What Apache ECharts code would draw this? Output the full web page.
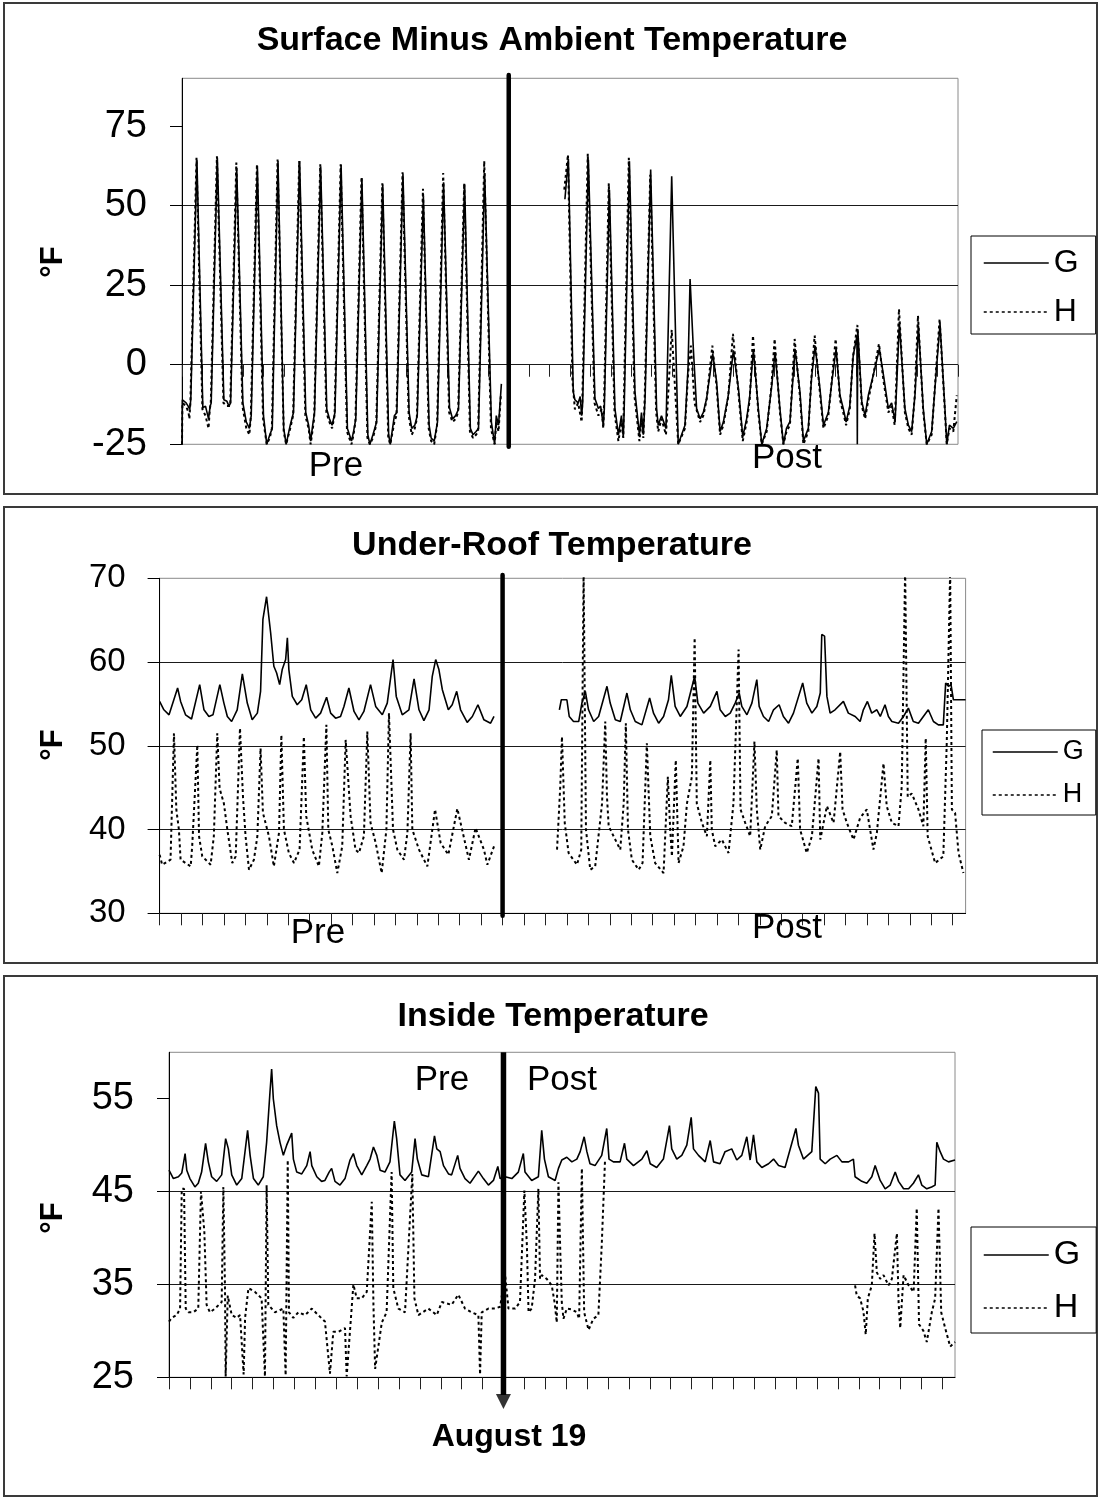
<!DOCTYPE html>
<html><head><meta charset="utf-8">
<script src="https://cdn.jsdelivr.net/npm/echarts@6/dist/echarts.min.js"></script>
<style>html,body{margin:0;padding:0;background:#fff}#c{width:1100px;height:1498px}</style>
</head><body><div id="c"></div>
<script>
const FONT = "'Liberation Sans', Arial, Helvetica, sans-serif";

// ---------- Panel titles & labels ----------
const panelTitles = ['Surface Minus Ambient Temperature', 'Under-Roof Temperature', 'Inside Temperature'];
const seriesNames = ['G', 'H'];
const dividerDay = 16;           // August 19
const dividerLabel = 'August 19';

// ---------- Y tick values ----------
const yTicksSurface = [-25, 0, 25, 50, 75];
const yTicksRoof = [30, 40, 50, 60, 70];
const yTicksInside = [25, 35, 45, 55];

// ---------- Surface minus ambient (days, °F) ----------
const surfacePreG = [
[0,-25],[0.02,-11],[0.2,-12],[0.3,-13],[0.38,-14],[0.43,-11],
[0.73,64.4],[1.02,-13.5],[1.15,-13],[1.3,-17],[1.38,-13],[1.43,-12],
[1.73,65],[2.05,-11],[2.2,-11.5],[2.3,-13],[2.38,-12],
[2.68,61.8],[2.98,-12],[3.15,-18],[3.3,-20],[3.39,-16],
[3.69,62.5],[3.99,-16],[4.15,-25],[4.3,-22],[4.42,-20],
[4.7,64],[4.98,-20],[5.1,-25],[5.3,-19],[5.46,-15],
[5.76,64],[6.06,-15],[6.2,-19],[6.3,-24],[6.4,-19],[6.49,-15],
[6.79,62.3],[7.09,-14],[7.22,-17],[7.35,-19],[7.49,-15],
[7.79,62.8],[8.1,-20],[8.3,-24],[8.4,-21],[8.51,-17],
[8.81,58.6],[9.1,-22],[9.2,-25],[9.35,-22],[9.53,-18],
[9.83,56.6],[10.12,-22],[10.2,-25],[10.4,-16],[10.52,-15],
[10.82,60],[11.12,-15],[11.25,-20],[11.4,-19],[11.52,-16],
[11.82,52.9],[12.1,-19],[12.2,-23],[12.35,-24],[12.51,-18],
[12.81,57.3],[13.1,-13.5],[13.25,-17],[13.4,-16],[13.54,-14],
[13.84,56.6],[14.12,-20],[14.25,-22],[14.4,-21],[14.52,-20],
[14.82,60.2],[15.15,-18],[15.31,-25],[15.39,-16],[15.5,-19],[15.64,-6]
];
const surfacePreH = [
[0,-25],[0.02,-12],[0.2,-13],[0.32,-15],[0.36,-17],[0.41,-12],
[0.71,65],[1.0,-14],[1.15,-16],[1.3,-20],[1.36,-14],[1.41,-12],
[1.71,65.5],[2.03,-12],[2.2,-13],[2.36,-13],
[2.66,63.5],[2.96,-13],[3.15,-20],[3.3,-22],[3.37,-16],
[3.67,63],[3.97,-17],[4.15,-25],[4.3,-23],[4.4,-20],
[4.68,64.5],[4.98,-21],[5.1,-25],[5.3,-20],[5.44,-16],
[5.74,64],[6.04,-16],[6.2,-20],[6.3,-25],[6.47,-17],
[6.77,63],[7.07,-15],[7.22,-18],[7.35,-20],[7.47,-16],
[7.77,63],[8.08,-21],[8.3,-25],[8.4,-22],[8.49,-18],
[8.79,59],[9.08,-23],[9.2,-25],[9.35,-23],[9.51,-19],
[9.81,57],[10.1,-23],[10.2,-25],[10.4,-18],[10.5,-16],
[10.8,60.5],[11.1,-16],[11.25,-22],[11.4,-20],[11.5,-17],
[11.8,55.3],[12.08,-20],[12.2,-24],[12.35,-25],[12.49,-19],
[12.79,60.2],[13.08,-15],[13.25,-18],[13.4,-17],[13.52,-15],
[13.82,57],[14.1,-21],[14.25,-23],[14.4,-22],[14.5,-21],
[14.8,64],[15.13,-20],[15.31,-25],[15.39,-18],[15.5,-21],[15.62,-9]
];
const surfacePostG = [
[18.75,52],[18.92,64.6],[19.16,-8.5],[19.24,-11],[19.4,-12],[19.5,-10],[19.57,-16],[19.62,-12],
[19.9,64.4],[20.22,-10.6],[20.39,-13.75],[20.5,-13],[20.63,-19],[20.68,-14],
[20.93,55],[21.2,-13.75],[21.37,-22],[21.52,-16],[21.61,-22.6],[21.65,-15],
[21.91,63.9],[22.18,-8.5],[22.4,-22],[22.5,-15],[22.59,-22],[22.68,-10],
[22.95,61.3],[23.24,-13.75],[23.32,-19],[23.48,-16],[23.7,-20],
[23.98,59.2],[24.3,-25],[24.63,-19],[24.78,-1],[24.88,26.9],[25.04,5],[25.2,-13.75],[25.37,-17],[25.53,-15],[25.69,-10.6],
[25.99,3.4],[26.18,-5.4],[26.35,-21],[26.51,-18],[26.75,-9.6],
[27.0,4.5],[27.25,-7.5],[27.46,-22.6],[27.65,-17],[27.8,-10],
[27.98,4.8],[28.22,-13.75],[28.39,-25],[28.63,-20],[28.88,-6.5],
[29.04,4],[29.28,-13.75],[29.45,-25],[29.6,-20],[29.77,-17.9],
[30.02,5],[30.26,-8.5],[30.43,-24],[30.67,-20],[30.83,-4],
[31.0,6],[31.24,-7.5],[31.41,-19],[31.65,-15],[31.81,-6],
[32.03,5],[32.22,-9.6],[32.38,-13.75],[32.52,-18],[32.7,-13],[32.87,2.9],
[33.05,9],[33.07,-25],[33.09,11.25],[33.29,-11.7],[33.45,-16],[33.61,-9.6],[33.85,-3.3],
[34.15,5],[34.35,-3.3],[34.59,-13.75],[34.75,-12],[34.92,-17.9],
[35.13,13.3],[35.4,-13.75],[35.57,-19],[35.73,-21],[35.9,-9],
[36.06,12.3],[36.3,-13.75],[36.47,-25],[36.71,-21],[36.92,-3.3],
[37.12,12.8],[37.36,-13.75],[37.45,-25],[37.58,-19],[37.77,-20],[37.94,-17.9]
];
const surfacePostH = [
[18.72,55],[18.9,66],[19.12,-5],[19.24,-14],[19.4,-12],[19.57,-18],[19.6,-12],
[19.87,66.3],[20.2,-12],[20.39,-16],[20.55,-14],[20.63,-20],[20.66,-14],
[20.9,57],[21.18,-15],[21.37,-24],[21.52,-18],[21.61,-23],[21.63,-14],
[21.88,65],[22.16,-10],[22.4,-24],[22.5,-17],[22.59,-23],[22.66,-10],
[22.93,59.7],[23.22,-15],[23.32,-21],[23.48,-17],[23.7,-22],
[23.98,11],[24.3,-25],[24.63,-20],[24.78,-3],[24.92,6],[25.1,-12],[25.37,-18],[25.53,-16],[25.69,-11],
[25.97,6],[26.18,-7],[26.35,-22],[26.51,-19],[26.75,-10],
[26.98,9.7],[27.25,-9],[27.46,-24],[27.65,-18],[27.8,-11],
[27.96,9.2],[28.22,-15],[28.39,-25],[28.63,-21],[28.86,-7],
[29.02,8.1],[29.28,-15],[29.45,-25],[29.6,-21],[29.77,-19],
[30.0,8.1],[30.26,-10],[30.43,-25],[30.67,-21],[30.81,-5],
[30.98,9.2],[31.24,-9],[31.41,-20],[31.65,-16],[31.79,-7],
[32.01,8.1],[32.22,-11],[32.38,-15],[32.52,-19],[32.7,-14],[32.85,2],
[33.07,12.5],[33.29,-13],[33.45,-17],[33.61,-11],[33.83,-4],
[34.13,6.6],[34.35,-5],[34.59,-15],[34.75,-13],[34.9,-19],
[35.11,17.5],[35.4,-15],[35.57,-20],[35.73,-22],[35.88,-10],
[36.04,15.4],[36.3,-15],[36.47,-25],[36.71,-22],[36.9,-4],
[37.1,14.4],[37.36,-15],[37.45,-25],[37.58,-20],[37.77,-21],[37.94,-9.6]
];

// ---------- Under-roof temperature ----------
const roofPreG = [
[0,55.3],[0.2,54.3],[0.44,53.7],[0.84,56.9],[0.98,55.3],[1.21,53.7],[1.49,53.2],[1.87,57.3],[2.07,54.3],[2.3,53.5],[2.49,53.7],
[2.81,57.3],[3.0,55.1],[3.16,53.5],[3.36,52.9],[3.62,54.3],[3.86,58.6],[4.09,55.1],[4.32,53.1],[4.56,53.9],[4.71,56.5],
[4.82,65.1],[4.99,67.8],[5.18,63.5],[5.33,59.5],[5.46,58.7],[5.6,57.3],[5.72,59.1],[5.88,60.3],[5.96,62.9],[6.03,59.1],
[6.19,55.9],[6.42,54.9],[6.63,55.5],[6.84,57.3],[7.05,54.3],[7.28,53.3],[7.51,53.9],[7.79,55.8],[7.98,53.9],[8.21,53.3],
[8.44,53.5],[8.6,54.7],[8.83,56.9],[9.07,54.1],[9.3,53.1],[9.53,54.1],[9.84,57.3],[10.08,54.7],[10.39,53.7],[10.62,55.1],
[10.89,60.3],[11.04,55.9],[11.32,53.7],[11.63,54.3],[11.87,58.0],[12.1,54.3],[12.33,53.0],[12.57,54.3],[12.72,58.3],
[12.88,60.3],[13.03,59.1],[13.19,56.7],[13.47,54.3],[13.65,54.9],[13.86,56.5],[14.04,54.3],[14.35,52.8],[14.59,53.5],
[14.85,54.9],[15.13,53.1],[15.44,52.7],[15.6,53.5]
];
const roofPreH = [
[0,37.0],[0.12,35.8],[0.51,36.4],[0.67,51.5],[0.78,42.4],[0.9,40.0],[0.98,36.4],[1.45,35.6],[1.52,38.0],[1.76,50.1],
[1.84,39.2],[1.99,36.8],[2.38,35.8],[2.53,39.2],[2.69,51.5],[2.8,44.9],[3.0,43.1],[3.16,40.0],[3.39,36.0],[3.55,36.8],
[3.75,52.1],[3.89,43.9],[4.01,39.2],[4.17,35.2],[4.4,36.4],[4.56,39.2],[4.71,49.7],[4.82,42.0],[5.1,39.2],[5.33,35.6],
[5.57,39.6],[5.68,51.3],[5.8,40.0],[6.03,37.2],[6.27,36.0],[6.53,37.6],[6.73,51.1],[6.84,41.6],[7.12,37.6],[7.43,35.6],
[7.59,39.6],[7.78,52.5],[7.87,40.0],[8.06,38.0],[8.29,34.8],[8.52,38.0],[8.68,50.7],[8.91,41.6],[9.14,37.6],[9.3,37.2],
[9.53,39.2],[9.69,51.7],[9.84,40.8],[10.08,38.4],[10.36,34.8],[10.58,40.0],[10.7,53.9],[10.89,40.0],[11.09,37.6],
[11.4,36.4],[11.56,39.6],[11.71,51.5],[11.79,40.0],[12.1,37.6],[12.49,35.6],[12.85,42.4],[13.11,38.4],[13.47,37.0],
[13.89,42.5],[14.43,36.4],[14.74,40.2],[15.13,37.6],[15.29,35.8],[15.6,38.0]
];
const roofPostG = [
[18.65,54.3],[18.74,55.5],[19.0,55.5],[19.11,53.5],[19.31,52.9],[19.55,52.9],[19.7,55.1],[19.86,56.5],[20.01,54.3],
[20.25,52.9],[20.48,53.5],[20.87,57.1],[21.02,55.1],[21.26,53.1],[21.49,52.9],[21.8,56.3],[21.96,54.3],[22.19,52.9],
[22.5,52.5],[22.86,55.7],[23.04,53.9],[23.28,52.7],[23.51,53.5],[23.74,55.5],[23.87,58.4],[24.05,54.7],[24.29,53.5],
[24.6,54.7],[24.96,58.3],[25.11,55.1],[25.38,53.9],[25.69,54.7],[26.0,56.5],[26.15,54.3],[26.39,53.5],[26.62,53.9],
[26.85,55.1],[27.04,56.3],[27.16,54.7],[27.4,53.7],[27.63,55.1],[27.86,57.9],[27.97,54.7],[28.17,53.5],[28.41,52.9],
[28.64,54.3],[28.9,54.9],[29.1,53.5],[29.34,52.7],[29.57,53.9],[30.0,57.5],[30.19,55.1],[30.43,53.9],[30.66,54.7],
[30.82,56.3],[30.89,63.3],[31.02,63.1],[31.13,55.9],[31.28,53.9],[31.51,54.3],[31.9,55.3],[32.13,53.9],[32.45,53.5],
[32.68,52.9],[32.83,54.3],[33.02,55.3],[33.22,53.9],[33.46,54.3],[33.62,53.5],[33.84,54.9],[34.0,53.5],[34.16,52.9],
[34.47,52.7],[34.7,53.5],[34.93,54.5],[35.16,52.9],[35.4,52.7],[35.63,53.5],[35.86,54.3],[36.1,52.9],[36.33,52.5],
[36.56,52.5],[36.67,57.5],[36.8,57.1],[36.92,57.3],[37.03,55.5],[37.19,55.5],[37.6,55.5]
];
const roofPostH = [
[18.54,37.6],[18.69,45.1],[18.77,51.1],[18.9,40.8],[19.08,37.2],[19.47,35.8],[19.67,37.6],[19.78,71],[19.89,40.0],
[20.09,35.2],[20.32,35.6],[20.64,43.1],[20.79,52.9],[20.87,43.9],[20.95,40.4],[21.18,39.2],[21.49,37.6],[21.65,43.1],
[21.75,52.7],[21.85,40.0],[22.03,36.4],[22.35,35.2],[22.53,36.0],[22.62,42.4],[22.73,50.3],[22.89,39.2],[23.12,36.0],
[23.51,34.8],[23.71,46.3],[23.82,40.0],[23.9,36.8],[24.08,48.3],[24.21,36.0],[24.44,38.0],[24.6,43.1],[24.83,46.3],
[24.96,62.9],[25.06,43.1],[25.3,40.8],[25.53,39.2],[25.69,48.3],[25.76,40.0],[25.92,38.0],[26.23,38.8],[26.54,37.2],
[26.77,43.1],[27.01,61.5],[27.1,42.4],[27.32,40.8],[27.55,39.2],[27.75,50.5],[27.86,42.4],[28.02,37.6],[28.25,40.4],
[28.56,41.6],[28.79,49.5],[28.87,41.6],[29.18,40.8],[29.49,40.4],[29.77,48.5],[29.88,40.0],[30.19,37.2],[30.43,39.2],
[30.74,48.5],[30.82,38.8],[31.13,42.8],[31.44,40.8],[31.75,49.3],[31.86,42.4],[32.06,40.8],[32.37,38.8],[32.68,41.4],
[32.99,42.4],[33.3,37.6],[33.46,39.6],[33.77,47.9],[33.92,42.8],[34.16,40.8],[34.47,40.4],[34.62,45.1],[34.78,71],
[34.9,43.9],[35.09,44.3],[35.4,42.4],[35.63,40.4],[35.74,50.9],[35.83,39.2],[36.18,36.0],[36.56,36.8],[36.72,50.3],
[36.88,71],[36.96,42.4],[37.11,42.0],[37.27,37.2],[37.5,34.8]
];

// ---------- Inside temperature ----------
const insideG = [
[0,47.3],[0.21,46.4],[0.45,46.6],[0.61,47.0],[0.69,48.0],[0.77,49.1],[0.85,47.3],[1.0,46.4],[1.24,45.5],[1.4,45.9],
[1.56,47.1],[1.75,50.2],[1.88,48.2],[2.04,46.6],[2.28,46.1],[2.52,46.8],[2.71,50.7],[2.84,49.6],[3.0,46.8],[3.24,45.7],
[3.48,46.4],[3.76,51.6],[3.88,48.9],[4.04,46.4],[4.27,45.7],[4.51,46.6],[4.67,50.3],[4.83,55.7],[4.91,58.2],[4.99,55.0],
[5.15,52.1],[5.31,50.3],[5.47,48.9],[5.63,50.0],[5.87,51.3],[5.95,48.5],[6.11,47.1],[6.35,46.9],[6.59,47.8],[6.75,49.3],
[6.83,47.8],[7.07,46.6],[7.3,46.1],[7.46,46.2],[7.66,47.1],[7.78,47.5],[7.94,46.1],[8.18,45.7],[8.42,46.4],[8.66,48.4],
[8.82,49.1],[8.98,47.8],[9.22,46.8],[9.46,47.8],[9.62,48.5],[9.78,49.8],[9.94,48.9],[10.1,47.3],[10.33,47.1],[10.57,48.2],
[10.78,52.6],[10.89,50.7],[11.05,46.8],[11.29,46.2],[11.61,47.1],[11.77,50.7],[11.88,48.5],[12.09,46.8],[12.41,46.6],
[12.7,51.0],[12.81,49.6],[12.97,49.3],[13.13,47.8],[13.37,46.9],[13.52,46.8],[13.81,48.9],[13.92,47.5],[14.16,46.4],
[14.4,45.9],[14.8,47.2],[15.04,46.4],[15.28,45.7],[15.52,46.2],[15.73,47.7],[15.84,46.4],[16.08,46.6],[16.4,46.4],
[16.71,47.1],[16.95,49.1],[17.03,47.1],[17.35,46.2],[17.67,46.6],[17.83,51.6],[17.96,48.5],[18.15,46.6],[18.47,46.2],
[18.63,47.5],[18.79,48.4],[19.03,48.7],[19.27,48.2],[19.51,48.5],[19.67,49.3],[19.86,50.9],[19.99,49.3],[20.14,48.0],
[20.38,47.8],[20.7,48.9],[20.94,51.8],[21.05,48.5],[21.26,48.2],[21.58,48.2],[21.79,50.2],[21.9,48.5],[22.22,47.8],
[22.62,48.5],[22.86,49.4],[23.02,48.0],[23.33,47.6],[23.65,48.5],[23.94,52.1],[24.05,49.6],[24.29,48.5],[24.53,48.9],
[24.77,50.0],[24.98,53.0],[25.09,49.6],[25.33,48.9],[25.65,48.2],[25.89,50.5],[26.05,48.2],[26.36,48.0],[26.6,49.3],
[26.92,49.6],[27.16,48.4],[27.4,48.9],[27.64,50.9],[27.8,48.4],[27.96,51.1],[28.12,48.2],[28.36,47.6],[28.68,48.0],
[28.92,48.5],[29.16,47.8],[29.47,47.6],[29.99,51.8],[30.11,50.0],[30.35,48.5],[30.75,49.3],[30.94,56.3],[31.07,55.6],
[31.15,48.5],[31.39,48.0],[31.63,48.5],[31.95,48.9],[32.19,48.2],[32.51,48.2],[32.74,48.5],[32.82,46.6],[33.14,46.1],
[33.38,45.9],[33.62,46.6],[33.78,47.8],[34.02,46.2],[34.26,45.3],[34.5,45.7],[34.74,47.1],[34.9,46.1],[35.14,45.3],
[35.38,45.3],[35.61,45.9],[35.85,46.8],[36.01,45.7],[36.25,45.3],[36.48,45.5],[36.65,45.7],[36.73,50.3],[36.89,49.3],
[37.05,48.5],[37.29,48.2],[37.6,48.4]
];
const insideH_part1 = [
[0,31.0],[0.13,31.4],[0.37,31.7],[0.53,32.4],[0.61,45.3],[0.72,45.3],[0.8,32.4],[0.93,32.0],[1.16,32.0],[1.4,32.4],
[1.53,45.0],[1.69,40.7],[1.8,32.8],[1.96,32.0],[2.2,32.4],[2.52,33.1],[2.6,45.5],[2.68,34.2],[2.71,25.1],[2.81,33.8],
[3.0,31.7],[3.24,31.4],[3.4,31.7],[3.57,25.3],[3.64,31.4],[3.8,34.6],[4.11,34.2],[4.43,33.5],[4.59,25.1],[4.67,45.7],
[4.75,32.8],[5.07,32.0],[5.47,32.4],[5.58,25.2],[5.68,48.4],[5.74,32.0],[5.95,31.4],[6.19,32.0],[6.51,31.7],[6.83,32.4],
[7.14,31.7],[7.46,31.0],[7.7,25.4],[7.86,29.9],[8.1,29.9],[8.42,30.3],[8.5,25.1],[8.82,35.0],[8.98,33.5],[9.22,33.5],
[9.46,34.2],[9.7,43.9],[9.78,32.8],[9.86,25.9],[10.18,30.9],[10.41,32.0],[10.65,47.1],[10.73,34.6],[10.97,32.4],
[11.29,32.0],[11.64,46.9],[11.74,33.5],[11.93,31.7],[12.41,32.4],[12.81,31.7],[13.05,33.1],[13.52,32.8],[13.84,33.9],
[14.16,32.4],[14.48,32.0],[14.8,31.7],[14.88,25.3],[14.96,32.0],[15.28,32.4],[15.59,32.4],[15.84,32.6],[16.08,36.0],
[16.24,32.4],[16.56,32.4],[16.79,33.1],[17.0,45.1],[17.12,39.2],[17.2,32.0],[17.35,32.4],[17.51,35.6],[17.67,45.3],
[17.75,35.6],[17.83,36.0],[18.07,35.6],[18.31,34.9],[18.45,33.0],[18.55,30.9],[18.63,46.0],[18.71,39.2],[18.79,33.1],
[18.87,31.3],[19.03,32.4],[19.27,32.3],[19.51,32.0],[19.62,31.3],[19.75,47.5],[19.86,32.0],[20.07,30.1],[20.3,31.3],
[20.54,31.7],[20.7,39.2],[20.86,48.5]
];
const insideH_part2 = [
[32.82,34.9],[32.9,33.8],[33.06,33.5],[33.22,32.1],[33.33,29.6],[33.43,33.5],[33.62,34.9],[33.75,40.5],[33.86,36.3],
[34.02,35.6],[34.18,36.0],[34.42,34.9],[34.58,35.6],[34.82,40.5],[34.9,33.1],[34.98,30.3],[35.14,36.0],[35.38,34.9],
[35.62,34.2],[35.77,43.2],[35.88,30.7],[36.09,30.0],[36.25,28.8],[36.49,32.0],[36.65,33.5],[36.81,43.2],[36.94,32.0],
[37.13,30.3],[37.37,28.3],[37.6,28.8]
];

// ---------- Build chart ----------
const chart = echarts.init(document.getElementById('c'), null, {renderer: 'canvas'});

const grids = [
  {left: 182, top: 78.3, width: 776, height: 366},
  {left: 159.6, top: 578.3, width: 806, height: 335},
  {left: 169, top: 1052.3, width: 786, height: 325}
];
const xMax = [38, 37.6, 37.6];
const yRange = [[-25, 90, 25, yTicksSurface, 38], [30, 70, 10, yTicksRoof, 33], [25, 60, 10, yTicksInside, 38]];

function dayTicks(n) { const a = []; for (let i = 0; i <= n; i++) a.push(i); return a; }

const xAxes = grids.map((g, i) => ({
  gridIndex: i, type: 'value', min: 0, max: xMax[i], interval: 1,
  axisLine: i === 0 ? {show: false, onZero: true} : {show: true, onZero: false, lineStyle: {color: '#000', width: 1}},
  axisTick: {show: true, length: 12, inside: false, customValues: dayTicks(i === 0 ? 38 : 37), lineStyle: {color: '#222', width: 1}},
  axisLabel: {show: false},
  splitLine: {show: false}
}));
const yAxes = yRange.map((r, i) => ({
  gridIndex: i, type: 'value', min: r[0], max: r[1], interval: r[2],
  axisLine: {show: true, onZero: false, lineStyle: {color: '#000', width: 1}},
  axisTick: {show: true, length: 12, inside: false, customValues: r[3], lineStyle: {color: '#000', width: 1}},
  axisLabel: {customValues: r[3], fontSize: r[4], fontFamily: FONT, color: '#000', margin: i === 1 ? 34 : 35},
  splitLine: {show: true, showMinLine: i !== 0, showMaxLine: false, lineStyle: {color: '#1a1a1a', width: 1}}
}));

const styleG = {color: '#000', width: 1.6, type: 'solid'};
const styleH = {color: '#000', width: 2, type: [3, 3]};
function dataLine(name, data, idx) {
  return {
    type: 'line', name, data, xAxisIndex: idx, yAxisIndex: idx,
    symbol: 'none', showSymbol: false, smooth: false, silent: true,
    lineStyle: name === 'G' ? styleG : styleH,
    itemStyle: {color: '#000'}, z: name === 'G' ? 3 : 2
  };
}
function divider(idx, top, bottom, width) {
  return {
    type: 'line', name: 'divider' + idx, data: [[dividerDay, top], [dividerDay, bottom]],
    xAxisIndex: idx, yAxisIndex: idx, symbol: 'none', clip: false, silent: true,
    lineStyle: {color: '#000', width: width, cap: idx === 2 ? 'butt' : 'round'}, z: 6
  };
}

const series = [
  dataLine('H', surfacePreH, 0), dataLine('G', surfacePreG, 0),
  dataLine('H', surfacePostH, 0), dataLine('G', surfacePostG, 0),
  divider(0, 91, -25.8, 4.5),
  dataLine('H', roofPreH, 1), dataLine('G', roofPreG, 1),
  dataLine('H', roofPostH, 1), dataLine('G', roofPostG, 1),
  divider(1, 70.4, 29.7, 4.5),
  dataLine('H', insideH_part1, 2), dataLine('H', insideH_part2, 2), dataLine('G', insideG, 2),
  divider(2, 60, 23.1, 5.5),
  {
    type: 'scatter', name: 'arrowHead', data: [[dividerDay, 22.4]], xAxisIndex: 2, yAxisIndex: 2,
    symbol: 'triangle', symbolSize: [15, 15], symbolRotate: 180, clip: false, silent: true,
    itemStyle: {color: '#000'}, z: 7
  }
];

function legend(left, top, padding, gap, fs) {
  return {
    orient: 'vertical', left, top, padding, itemGap: gap, itemWidth: 65, itemHeight: 2,
    borderColor: '#000', borderWidth: 1, backgroundColor: '#fff', borderRadius: 0,
    selectedMode: false, data: seriesNames,
    itemStyle: {opacity: 0, color: 'transparent', borderWidth: 0},
    lineStyle: {width: 1.5},
    textStyle: {fontSize: fs, lineHeight: fs, fontFamily: FONT, color: '#000'}
  };
}

function txt(text, x, y, size, bold, rot) {
  return {
    type: 'text', x, y, rotation: rot || 0, silent: true, z: 10,
    style: {text, fill: '#000', fontSize: size, fontWeight: bold ? 'bold' : 'normal', fontFamily: FONT, align: 'center', verticalAlign: 'middle'}
  };
}
function box(y, h) {
  return {type: 'rect', shape: {x: 4, y, width: 1093, height: h}, style: {fill: 'none', stroke: '#3a3a3a', lineWidth: 2}, silent: true, z: 0};
}

const option = {
  animation: false,
  backgroundColor: '#fff',
  grid: grids.map(g => Object.assign({show: true, borderColor: '#8a8a8a', borderWidth: 1, backgroundColor: 'transparent', containLabel: false}, g)),
  xAxis: xAxes,
  yAxis: yAxes,
  legend: [
    legend(971, 236, [11, 17, 6, 12], 17, 32),
    legend(982, 730, [8.5, 12, 6.5, 10], 16, 27),
    legend(971, 1227, [11, 16, 8, 12], 19, 34)
  ],
  series,
  graphic: [
    box(3, 491), box(507, 456), box(976, 520),
    txt(panelTitles[0], 552, 41, 34, true),
    txt(panelTitles[1], 552, 546, 34, true),
    txt(panelTitles[2], 553, 1017, 34, true),
    txt('°F', 53, 262, 31, true, Math.PI / 2),
    txt('°F', 53, 745, 31, true, Math.PI / 2),
    txt('°F', 53, 1218, 31, true, Math.PI / 2),
    txt('Pre', 336, 466, 35, false),
    txt('Post', 787, 458, 35, false),
    txt('Pre', 318, 933, 35, false),
    txt('Post', 787, 928, 35, false),
    txt('Pre', 442, 1080, 35, false),
    txt('Post', 562, 1080, 35, false),
    txt(dividerLabel, 509, 1437, 32, true)
  ]
};
chart.setOption(option);
</script></body></html>
